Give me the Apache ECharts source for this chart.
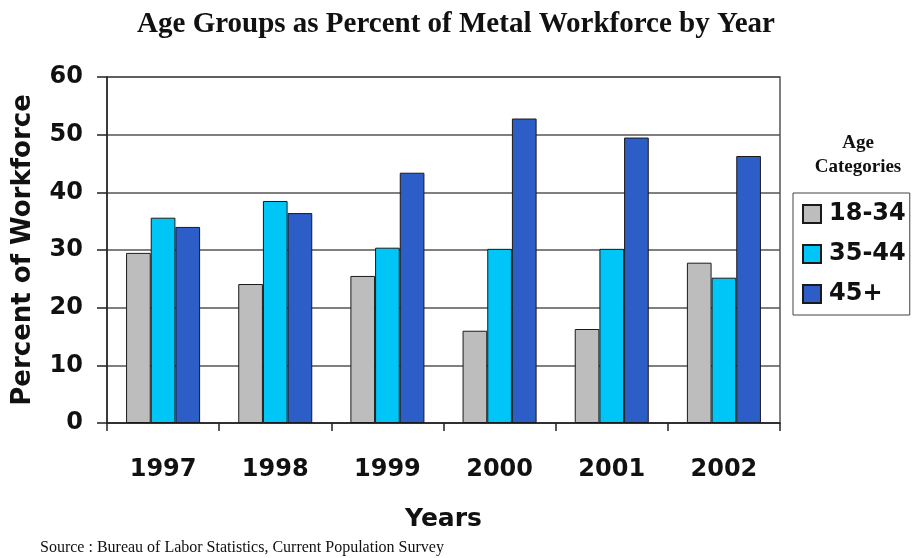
<!DOCTYPE html>
<html>
<head>
<meta charset="utf-8">
<script src="https://cdn.jsdelivr.net/npm/echarts@6/dist/echarts.min.js"></script>
<style>html,body{margin:0;padding:0;background:#fff}#chart{width:912px;height:558px}</style>
</head>
<body>
<div id="chart"></div>
<script>
const years = ['1997', '1998', '1999', '2000', '2001', '2002'];
const age18to34 = [29.5, 24.1, 25.5, 16.0, 16.3, 27.8];
const age35to44 = [35.6, 38.5, 30.4, 30.2, 30.2, 25.2];
const age45plus = [34.0, 36.4, 43.4, 52.8, 49.5, 46.3];
const seriesNames = ['18-34', '35-44', '45+'];
const yTicks = { min: 0, max: 60, interval: 10 };

const sans = "'DejaVu Sans', Verdana, sans-serif";
const serif = "'Liberation Serif', 'Times New Roman', serif";
const colors = ['#BDBDBD', '#00C6F8', '#2D5DC6'];

const chart = echarts.init(document.getElementById('chart'));
const data = [age18to34, age35to44, age45plus];
chart.setOption({
  animation: false,
  title: [
    { text: 'Age Groups as Percent of Metal Workforce by Year', left: 'center', top: 5,
      textStyle: { fontFamily: serif, fontWeight: 'bold', fontSize: 29, color: '#111' } },
    { text: 'Age\nCategories', left: 853, textAlign: 'center', top: 126,
      textStyle: { fontFamily: serif, fontWeight: 'bold', fontSize: 19, lineHeight: 24, color: '#111' } },
    { text: 'Source : Bureau of Labor Statistics, Current Population Survey', left: 35, top: 535,
      textStyle: { fontFamily: serif, fontWeight: 'normal', fontSize: 16, color: '#111' } }
  ],
  legend: {
    orient: 'vertical', left: 793, top: 193,
    data: seriesNames,
    icon: 'rect', itemWidth: 18, itemHeight: 18, itemGap: 16,
    padding: [9, 4, 9, 9],
    borderColor: '#444', borderWidth: 1,
    textStyle: { fontFamily: sans, fontWeight: 'bold', fontSize: 24, color: '#111', padding: [0, 0, 0, 3] }
  },
  grid: { left: 107, right: 132, top: 77, bottom: 135, show: true, borderColor: '#555', borderWidth: 1.5 },
  xAxis: {
    type: 'category', data: years,
    name: 'Years', nameLocation: 'middle', nameGap: 84,
    nameTextStyle: { fontFamily: sans, fontWeight: 'bold', fontSize: 25, color: '#111' },
    axisLine: { lineStyle: { color: '#222', width: 1.5 } },
    axisTick: { show: true, length: 8, lineStyle: { color: '#222', width: 1.5 } },
    axisLabel: { fontFamily: sans, fontWeight: 'bold', fontSize: 24, color: '#111', margin: 35 }
  },
  yAxis: {
    type: 'value', min: yTicks.min, max: yTicks.max, interval: yTicks.interval,
    name: 'Percent of Workforce', nameLocation: 'middle', nameGap: 71,
    nameTextStyle: { fontFamily: sans, fontWeight: 'bold', fontSize: 26, color: '#111' },
    axisLine: { show: true, lineStyle: { color: '#222', width: 1.5 } },
    axisTick: { show: true, length: 10, lineStyle: { color: '#222', width: 1.5 } },
    axisLabel: { fontFamily: sans, fontWeight: 'bold', fontSize: 24, color: '#111', margin: 24 },
    splitLine: { lineStyle: { color: '#555', width: 1.5 } }
  },
  series: seriesNames.map((n, i) => ({
    name: n, type: 'bar', data: data[i],
    barGap: '0%', barCategoryGap: '34%',
    itemStyle: { color: colors[i], borderColor: '#1a1a1a', borderWidth: 1 }
  }))
});
</script>
</body>
</html>
